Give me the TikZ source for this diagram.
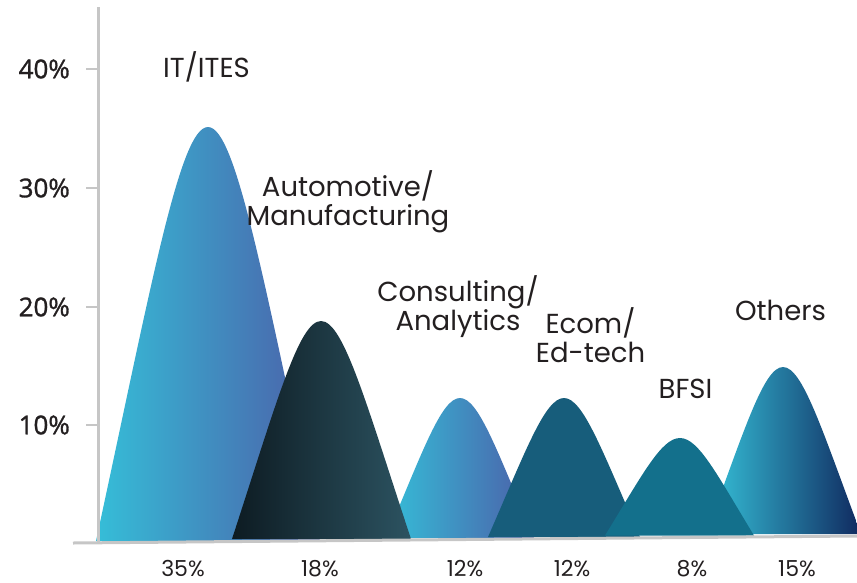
\documentclass[tikz,border=0pt]{standalone}
\usepackage{fontspec}
\setmainfont{Poppins}
\newfontfamily\axisfont{Open Sans}[FakeBold=1.2]
\definecolor{txt}{HTML}{231F20}
\definecolor{axisgrey}{HTML}{C6C6C6}
\definecolor{cyanA}{HTML}{35BED8}
\definecolor{blueA}{HTML}{3E93C3}
\definecolor{purpA}{HTML}{4C5EA8}
\definecolor{darkA}{HTML}{0D1B22}
\definecolor{darkB}{HTML}{2C5361}
\definecolor{ecomC}{HTML}{175D7B}
\definecolor{bfsiC}{HTML}{13708C}
\definecolor{othA}{HTML}{36C3DA}
\definecolor{othB}{HTML}{2191B1}
\definecolor{othC}{HTML}{10295F}
\newcommand\drawpeak[6]{%
  \path[#1] (#2,#6) .. controls ({#2+0.5*(#3-#2)},{#6-0.625*(#6-#5)}) and ({#3-0.25*(#3-#2)},#5) .. (#3,#5)
    .. controls ({#3+0.25*(#4-#3)},#5) and ({#4-0.5*(#4-#3)},{#6-0.625*(#6-#5)}) .. (#4,#6) -- cycle;}
\tikzset{
  lab/.style={anchor=base, align=center, inner sep=0pt, text=txt, font=\fontsize{27.5}{29}\selectfont},
  pct/.style={anchor=base, inner sep=0pt, text=txt, font=\fontsize{22}{24}\selectfont},
  ylab/.style={anchor=east, inner sep=0pt, text=txt, font=\axisfont\fontsize{26}{28}\selectfont},
  axisline/.style={draw=axisgrey, line width=3pt},
  tickline/.style={draw=axisgrey, line width=2pt}
}
\begin{document}
\begin{tikzpicture}[x=1pt,y=-1pt]
\useasboundingbox (0,0) rectangle (857,582);
% peaks (back to front)
\drawpeak{left color=cyanA, middle color=blueA, right color=purpA}{96}{208}{320}{127}{541}
\drawpeak{left color=cyanA, middle color=blueA, right color=purpA}{386}{460}{534}{398}{538}
\drawpeak{left color=darkA, right color=darkB}{232}{321}{411}{321}{539}
\drawpeak{fill=ecomC}{488}{564}{640}{398}{537}
\drawpeak{left color=othA, middle color=othB, right color=othC}{706}{783}{861}{367}{534}
\drawpeak{fill=bfsiC}{605}{680}{754}{438}{535.5}
% axes
\coordinate (ytop) at (98,7);
\coordinate (orig) at (98,543);
\coordinate (xleft) at (73,543);
\coordinate (xright) at (857,536);
\path[axisline] (ytop) -- (orig);
\path[axisline] (xleft) -- (xright);
\foreach \v/\y in {40/69,30/188,20/307,10/425}{
  \coordinate (t\v) at (86,\y);
  \coordinate (a\v) at (98,\y);
  \path[tickline] (t\v) -- (a\v);
  \node[ylab] (yl\v) at (70,\y) {\v\%};
}
% labels
\node[lab] (lit) at (206.5,77) {IT/ITES};
\node[lab] (lauto) at (348,225) {Automotive/\\Manufacturing};
\node[lab] (lcons) at (458,330) {Consulting/\\Analytics};
\node[lab] (lecom) at (590.5,362) {Ecom/\\Ed-tech};
\node[lab] (lbfsi) at (685.5,398) {BFSI};
\node[lab] (loth) at (780.5,320) {Others};
% bottom values
\node[pct] (p1) at (183,576) {35\%};
\node[pct] (p2) at (320,576) {18\%};
\node[pct] (p3) at (465,576) {12\%};
\node[pct] (p4) at (572,576) {12\%};
\node[pct] (p5) at (692,576) {8\%};
\node[pct] (p6) at (797,576) {15\%};
\end{tikzpicture}
\end{document}
